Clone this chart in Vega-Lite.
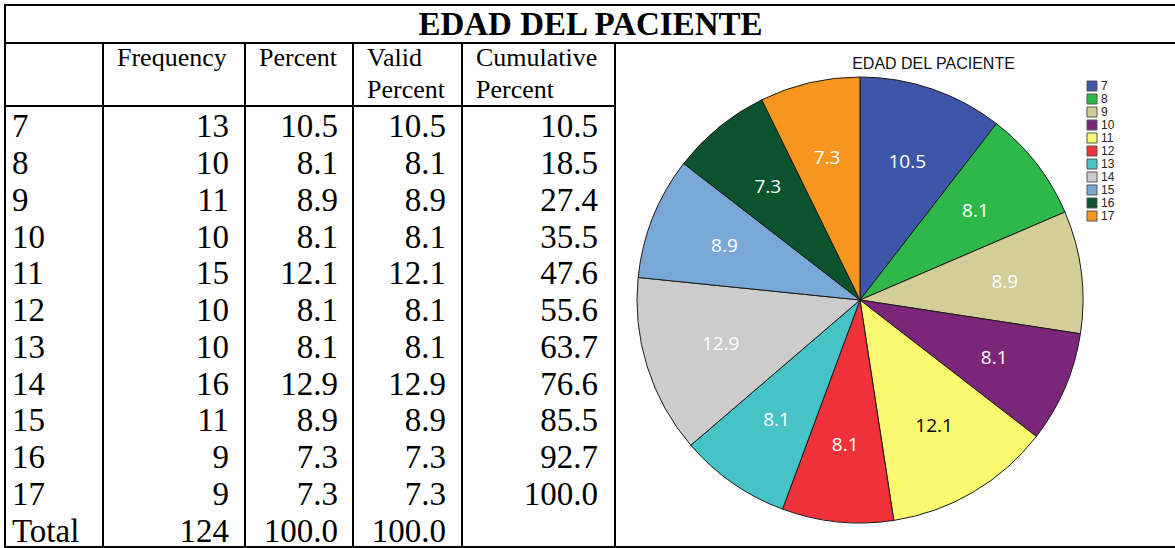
{
  "$schema": "https://vega.github.io/schema/vega-lite/v6.json",
  "padding": {"left": 3, "top": 4, "right": 0, "bottom": 0},
  "background": "white",
  "config": {
    "view": {"stroke": "black", "strokeWidth": 2},
    "concat": {"spacing": 0}
  },
  "datasets": {
    "table": [
      {"edad": "7", "freq": 13, "pct": 10.5, "valid": 10.5, "cum": 10.5},
      {"edad": "8", "freq": 10, "pct": 8.1, "valid": 8.1, "cum": 18.5},
      {"edad": "9", "freq": 11, "pct": 8.9, "valid": 8.9, "cum": 27.4},
      {"edad": "10", "freq": 10, "pct": 8.1, "valid": 8.1, "cum": 35.5},
      {"edad": "11", "freq": 15, "pct": 12.1, "valid": 12.1, "cum": 47.6},
      {"edad": "12", "freq": 10, "pct": 8.1, "valid": 8.1, "cum": 55.6},
      {"edad": "13", "freq": 10, "pct": 8.1, "valid": 8.1, "cum": 63.7},
      {"edad": "14", "freq": 16, "pct": 12.9, "valid": 12.9, "cum": 76.6},
      {"edad": "15", "freq": 11, "pct": 8.9, "valid": 8.9, "cum": 85.5},
      {"edad": "16", "freq": 9, "pct": 7.3, "valid": 7.3, "cum": 92.7},
      {"edad": "17", "freq": 9, "pct": 7.3, "valid": 7.3, "cum": 100.0},
      {"edad": "Total", "freq": 124, "pct": 100.0, "valid": 100.0, "cum": null}
    ],
    "columns": [
      {"i": 1, "h": "Frequency"},
      {"i": 2, "h": "Percent"},
      {"i": 3, "h": "Valid\nPercent"},
      {"i": 4, "h": "Cumulative\nPercent"}
    ],
    "heading": [{"t": "EDAD DEL PACIENTE"}]
  },
  "bounds": "flush",
  "spacing": 0,
  "vconcat": [
    {
      "width": 1173,
      "height": 38,
      "data": {"name": "heading"},
      "mark": {"type": "text", "font": "Liberation Serif", "fontSize": 33, "fontWeight": "bold", "baseline": "middle", "dx": -1, "dy": 1, "color": "black"},
      "encoding": {
        "x": {"field": "t", "type": "nominal", "axis": null},
        "y": {"field": "t", "type": "nominal", "axis": null},
        "text": {"field": "t", "type": "nominal"}
      }
    },
    {
      "bounds": "flush",
      "spacing": 0,
      "hconcat": [
        {
          "width": 610,
          "height": 504,
          "data": {"name": "table"},
          "encoding": {
            "y": {"field": "edad", "type": "nominal", "axis": null,
                  "scale": {"type": "band", "domain": ["head", "7", "8", "9", "10", "11", "12", "13", "14", "15", "16", "17", "Total"],
                            "paddingInner": 0, "paddingOuter": 0.35714, "align": 1}}
          },
          "layer": [
            {
              "data": {"name": "columns"},
              "mark": {"type": "rule", "color": "black", "strokeWidth": 2},
              "encoding": {
                "y": null,
                "x": {"field": "i", "type": "quantitative", "axis": null,
                      "scale": {"domain": [0, 1, 2, 3, 4, 5], "range": [0, 98, 240, 348, 457, 610], "nice": false, "zero": false}}
              }
            },
            {
              "data": {"name": "heading"},
              "mark": {"type": "rule", "color": "black", "strokeWidth": 2},
              "encoding": {
                "y": {"datum": "7", "type": "nominal", "bandPosition": 0}
              }
            },
            {
              "data": {"name": "columns"},
              "mark": {"type": "text", "align": "left", "baseline": "middle", "dx": 14, "dy": -30, "lineBreak": "\n", "lineHeight": 32, "font": "Liberation Serif", "fontSize": 26, "color": "black"},
              "encoding": {
                "y": {"datum": "head", "type": "nominal"},
                "x": {"field": "i", "type": "quantitative", "axis": null},
                "text": {"field": "h", "type": "nominal"}
              }
            },
            {
              "mark": {"type": "text", "align": "left", "baseline": "middle", "dx": 7, "dy": 3, "font": "Liberation Serif", "fontSize": 33, "color": "black"},
              "encoding": {
                "x": {"datum": 0, "type": "quantitative", "axis": null},
                "text": {"field": "edad", "type": "nominal"}
              }
            },
            {
              "mark": {"type": "text", "align": "right", "baseline": "middle", "dx": -16, "dy": 3, "font": "Liberation Serif", "fontSize": 33, "color": "black"},
              "encoding": {
                "x": {"datum": 2, "type": "quantitative", "axis": null},
                "text": {"field": "freq", "type": "quantitative", "format": "d"}
              }
            },
            {
              "mark": {"type": "text", "align": "right", "baseline": "middle", "dx": -15, "dy": 3, "font": "Liberation Serif", "fontSize": 33, "color": "black"},
              "encoding": {
                "x": {"datum": 3, "type": "quantitative", "axis": null},
                "text": {"field": "pct", "type": "quantitative", "format": ".1f"}
              }
            },
            {
              "mark": {"type": "text", "align": "right", "baseline": "middle", "dx": -16, "dy": 3, "font": "Liberation Serif", "fontSize": 33, "color": "black"},
              "encoding": {
                "x": {"datum": 4, "type": "quantitative", "axis": null},
                "text": {"field": "valid", "type": "quantitative", "format": ".1f"}
              }
            },
            {
              "transform": [{"filter": "isValid(datum.cum)"}],
              "mark": {"type": "text", "align": "right", "baseline": "middle", "dx": -17, "dy": 3, "font": "Liberation Serif", "fontSize": 33, "color": "black"},
              "encoding": {
                "x": {"datum": 5, "type": "quantitative", "axis": null},
                "text": {"field": "cum", "type": "quantitative", "format": ".1f"}
              }
            }
          ]
        },
        {
          "width": 563,
          "height": 504,
          "data": {"name": "table"},
          "transform": [{"filter": "datum.edad != 'Total'"}],
          "title": {
            "text": "EDAD DEL PACIENTE",
            "font": "Liberation Sans",
            "fontSize": 16,
            "fontWeight": "normal",
            "color": "#111",
            "anchor": "middle",
            "frame": "group",
            "dx": 37,
            "offset": -42,
            "baseline": "alphabetic"
          },
          "encoding": {
            "x": {"datum": "pie", "type": "nominal", "axis": null},
            "y": {"datum": "pie", "type": "nominal", "axis": null}
          },
          "layer": [
            {
              "mark": {"type": "arc", "outerRadius": 223, "stroke": "#1a1a1a", "strokeWidth": 1, "xOffset": -36.5, "yOffset": 5},
              "encoding": {
                "theta": {"field": "freq", "type": "quantitative", "stack": true},
                "order": {"field": "cum", "type": "quantitative"},
                "color": {
                  "field": "edad",
                  "type": "nominal",
                  "scale": {
                    "domain": ["7", "8", "9", "10", "11", "12", "13", "14", "15", "16", "17"],
                    "range": ["#3e56a8", "#2fb84a", "#d3cd98", "#7b2679", "#fafa70", "#ef3139", "#47c3c7", "#cccccc", "#7aa8d6", "#0a532c", "#f7961e"]
                  },
                  "legend": {
                    "title": null,
                    "orient": "none",
                    "legendX": 1081,
                    "legendY": 75,
                    "padding": 0,
                    "symbolType": "square",
                    "symbolSize": 100,
                    "symbolStrokeColor": "#555",
                    "symbolStrokeWidth": 1,
                    "symbolOpacity": 1,
                    "labelFont": "Liberation Sans",
                    "labelFontSize": 12,
                    "labelColor": "#222",
                    "labelOffset": 3,
                    "rowPadding": -3
                  }
                }
              }
            },
            {
              "mark": {"type": "text", "radius": 146, "font": "Open Sans", "fontSize": 19, "xOffset": -36.5, "yOffset": 5},
              "encoding": {
                "theta": {"field": "freq", "type": "quantitative", "stack": true},
                "order": {"field": "cum", "type": "quantitative"},
                "text": {"field": "pct", "type": "quantitative", "format": ".1f"},
                "color": {"condition": {"test": "datum.edad == '11'", "value": "black"}, "value": "white"}
              }
            }
          ]
        }
      ]
    }
  ]
}
